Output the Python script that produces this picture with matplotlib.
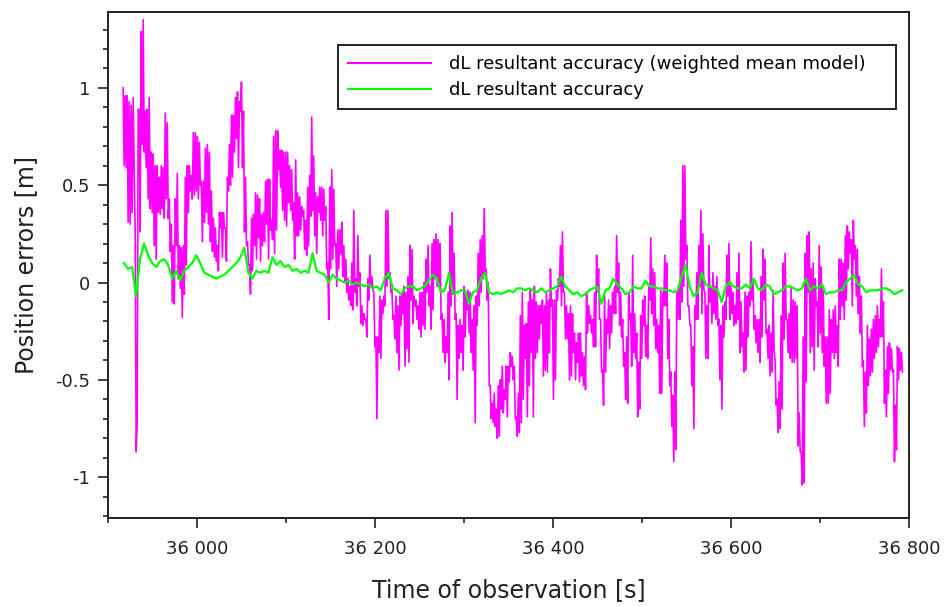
import matplotlib
matplotlib.use("Agg")
import matplotlib.pyplot as plt
from matplotlib.ticker import FuncFormatter, MultipleLocator
import numpy as np

plt.rcParams["axes.unicode_minus"] = False

# time base of the two records (regular sampling)
T0_WEIGHTED = 35917.0
DT_WEIGHTED = 1.127
T0_PLAIN = 35918.0
DT_PLAIN = 4.507

# dL resultant accuracy (weighted mean model) [m]
weighted = [
    1.00, 0.60, 0.96, 0.59, 0.96, 0.31, 0.93, 0.30, 0.91, 0.36, 0.95, 0.59,
    0.26, -0.87, -0.73, 0.89, 0.89, 0.26, 1.29, 0.71, 1.35, 0.67, 0.88, 0.59,
    0.89, 0.43, 0.95, 0.38, 0.67, 0.36, 0.66, 0.19, 0.60, 0.12, 0.60, 0.36,
    0.54, 0.35, 0.60, 0.38, 0.59, 0.33, 0.87, 0.43, 0.82, 0.33, 0.43, 0.16,
    0.30, -0.10, 0.19, -0.11, 0.43, 0.19, 0.56, 0.02, 0.19, -0.03, 0.18, -0.18,
    0.19, -0.06, 0.54, 0.09, 0.60, 0.36, 0.60, 0.47, 0.55, 0.43, 0.77, 0.45,
    0.77, 0.47, 0.75, 0.43, 0.72, 0.50, 0.52, 0.21, 0.52, 0.31, 0.69, 0.36,
    0.71, 0.30, 0.67, 0.21, 0.47, 0.16, 0.33, 0.13, 0.28, 0.11, 0.19, 0.06,
    0.36, 0.28, 0.36, 0.13, 0.36, 0.28, 0.28, 0.11, 0.54, 0.47, 0.71, 0.50,
    0.86, 0.54, 0.86, 0.67, 0.95, 0.74, 0.98, 0.59, 0.93, 0.88, 1.03, 0.59,
    0.88, 0.26, 0.54, 0.19, 0.21, 0.09, 0.09, -0.06, 0.33, 0.06, 0.35, 0.19,
    0.46, 0.12, 0.45, 0.23, 0.43, 0.11, 0.35, 0.19, 0.36, 0.21, 0.52, 0.30,
    0.53, 0.12, 0.53, 0.27, 0.32, 0.22, 0.75, 0.15, 0.78, 0.27, 0.78, 0.58,
    0.68, 0.49, 0.68, 0.37, 0.67, 0.32, 0.67, 0.29, 0.67, 0.41, 0.60, 0.37,
    0.58, 0.32, 0.41, 0.12, 0.63, 0.24, 0.46, 0.24, 0.44, 0.27, 0.39, 0.34,
    0.37, 0.17, 0.32, 0.14, 0.49, 0.19, 0.55, 0.34, 0.85, 0.37, 0.65, 0.24,
    0.46, 0.15, 0.44, 0.36, 0.49, 0.32, 0.49, 0.24, 0.48, 0.32, 0.39, 0.07,
    0.10, -0.19, 0.49, 0.07, 0.58, 0.12, 0.48, 0.19, 0.20, -0.02, 0.27, 0.07,
    0.27, 0.15, 0.31, 0.03, 0.19, 0.00, 0.12, -0.05, 0.02, -0.09, -0.02, -0.12,
    0.10, -0.14, 0.37, -0.05, 0.02, -0.12, 0.24, -0.02, 0.05, -0.21, -0.12, -0.22,
    -0.16, -0.19, -0.19, -0.28, 0.02, -0.09, 0.14, -0.02, 0.03, -0.04, -0.05, -0.33,
    -0.28, -0.70, -0.28, -0.36, -0.07, -0.39, -0.09, -0.16, -0.07, -0.12, 0.37, -0.02,
    0.37, 0.02, 0.05, -0.05, -0.04, -0.19, -0.17, -0.29, -0.07, -0.36, -0.12, -0.45,
    -0.07, -0.22, -0.05, -0.16, -0.02, -0.43, -0.05, -0.34, 0.03, -0.41, 0.19, -0.09,
    0.17, -0.21, -0.07, -0.12, -0.09, -0.19, -0.12, -0.24, -0.05, -0.28, -0.05, -0.22,
    0.00, -0.24, 0.12, -0.05, 0.19, -0.12, -0.02, -0.24, 0.20, -0.14, 0.22, 0.02,
    0.25, -0.02, 0.22, -0.02, 0.20, -0.19, -0.16, -0.36, -0.19, -0.41, -0.28, -0.36,
    -0.05, -0.50, 0.29, -0.12, 0.36, -0.05, 0.15, -0.19, -0.16, -0.60, -0.22, -0.39,
    -0.19, -0.36, -0.22, -0.45, -0.02, -0.28, -0.07, -0.14, -0.04, -0.26, -0.05, -0.36,
    -0.19, -0.45, -0.12, -0.72, -0.07, -0.22, 0.15, -0.12, 0.22, -0.05, 0.24, 0.02,
    0.38, 0.05, 0.07, -0.09, 0.00, -0.53, -0.53, -0.70, -0.62, -0.72, -0.57, -0.74,
    -0.65, -0.80, -0.53, -0.79, -0.50, -0.65, -0.43, -0.67, -0.55, -0.60, -0.43, -0.69,
    -0.43, -0.51, -0.36, -0.43, -0.38, -0.50, -0.43, -0.70, -0.69, -0.79, -0.57, -0.77,
    -0.17, -0.72, -0.05, -0.60, -0.22, -0.39, -0.21, -0.69, -0.10, -0.53, -0.04, -0.36,
    -0.09, -0.69, -0.02, -0.39, -0.10, -0.36, -0.12, -0.29, -0.12, -0.21, -0.09, -0.48,
    -0.12, -0.45, -0.05, -0.46, -0.09, -0.36, 0.07, -0.12, -0.09, -0.60, -0.09, -0.50,
    -0.04, -0.09, 0.02, -0.02, 0.19, -0.12, 0.26, -0.05, -0.05, -0.29, -0.12, -0.29,
    -0.16, -0.50, -0.12, -0.48, -0.16, -0.36, -0.26, -0.50, -0.31, -0.41, -0.26, -0.51,
    -0.26, -0.48, -0.36, -0.53, -0.38, -0.55, -0.05, -0.26, -0.12, -0.21, -0.17, -0.26,
    -0.19, -0.33, -0.05, -0.33, 0.14, -0.05, 0.07, -0.19, -0.19, -0.46, -0.45, -0.63,
    -0.07, -0.46, -0.19, -0.26, -0.09, -0.34, -0.12, -0.26, -0.05, -0.16, -0.02, -0.16,
    0.24, -0.05, 0.10, -0.22, -0.05, -0.28, -0.19, -0.43, -0.36, -0.60, -0.28, -0.62,
    -0.05, -0.19, -0.16, -0.43, 0.14, -0.36, -0.16, -0.39, -0.26, -0.69, -0.41, -0.65,
    -0.17, -0.39, -0.09, -0.22, -0.07, -0.38, -0.22, -0.39, -0.02, -0.09, 0.23, -0.16,
    0.07, -0.22, 0.05, -0.34, -0.19, -0.36, -0.22, -0.57, -0.04, -0.57, -0.05, -0.12,
    0.14, -0.12, 0.10, -0.39, -0.19, -0.53, -0.46, -0.74, -0.58, -0.92, -0.46, -0.86,
    -0.05, -0.19, -0.02, -0.19, 0.32, -0.10, 0.60, -0.02, 0.60, 0.12, 0.19, -0.12,
    -0.12, -0.22, -0.22, -0.53, -0.33, -0.75, -0.12, -0.19, 0.05, -0.19, 0.19, -0.02,
    0.37, -0.16, 0.25, -0.04, -0.05, -0.39, -0.12, -0.39, 0.19, -0.10, -0.02, -0.21,
    0.05, -0.16, -0.02, -0.19, 0.03, -0.22, -0.19, -0.50, -0.22, -0.65, -0.12, -0.28,
    -0.10, -0.19, 0.14, -0.07, 0.20, -0.19, -0.02, -0.16, -0.05, -0.22, -0.12, -0.21,
    0.05, -0.19, 0.15, -0.36, -0.10, -0.33, -0.26, -0.46, -0.05, -0.45, -0.07, -0.28,
    -0.05, -0.12, 0.21, -0.09, 0.00, -0.24, -0.17, -0.31, -0.19, -0.36, -0.19, -0.41,
    0.03, -0.28, 0.17, -0.09, 0.12, -0.26, -0.24, -0.39, -0.22, -0.48, -0.26, -0.46,
    -0.04, -0.34, -0.41, -0.63, -0.60, -0.77, -0.51, -0.75, -0.17, -0.65, 0.10, -0.29,
    0.15, -0.19, -0.19, -0.36, -0.16, -0.39, -0.02, -0.41, -0.09, -0.41, -0.10, -0.39,
    -0.12, -0.84, -0.67, -0.87, -0.87, -1.04, -0.28, -1.03, 0.15, -0.51, 0.24, -0.05,
    0.26, -0.36, 0.07, -0.33, 0.10, -0.45, 0.02, -0.12, -0.10, -0.33, 0.19, -0.26,
    0.08, -0.36, -0.02, -0.43, -0.28, -0.62, -0.28, -0.62, -0.14, -0.57, -0.19, -0.36,
    -0.14, -0.39, -0.12, -0.36, -0.22, -0.43, 0.12, -0.19, 0.12, -0.12, 0.10, -0.19,
    0.24, -0.09, 0.29, 0.07, 0.26, 0.15, 0.22, -0.12, 0.32, 0.12, 0.19, -0.07,
    0.17, -0.16, 0.03, -0.26, -0.07, -0.43, -0.40, -0.74, -0.46, -0.67, -0.22, -0.53,
    -0.29, -0.48, -0.24, -0.46, -0.19, -0.39, -0.17, -0.36, -0.12, -0.33, -0.19, -0.28,
    0.07, -0.28, -0.10, -0.62, -0.45, -0.69, -0.33, -0.57, -0.31, -0.45, -0.34, -0.46,
    -0.45, -0.92, -0.63, -0.86, -0.33, -0.50, -0.34, -0.45, -0.36, -0.46,
]

# dL resultant accuracy [m]
plain = [
    0.10, 0.07, 0.08, -0.07, 0.12, 0.20, 0.14, 0.10, 0.08, 0.11, 0.12, 0.09,
    0.02, 0.06, 0.01, 0.06, 0.08, 0.10, 0.14, 0.10, 0.05, 0.04, 0.03, 0.02,
    0.03, 0.04, 0.06, 0.08, 0.10, 0.13, 0.18, 0.05, 0.02, 0.06, 0.05, 0.06,
    0.05, 0.13, 0.09, 0.11, 0.08, 0.09, 0.06, 0.07, 0.05, 0.06, 0.05, 0.15,
    0.06, 0.05, 0.04, 0.00, 0.04, 0.02, 0.01, 0.00, 0.01, -0.01, 0.00, -0.01,
    -0.02, -0.01, -0.03, -0.02, -0.04, 0.02, 0.05, -0.03, -0.04, -0.06, -0.03, -0.02,
    -0.02, -0.04, -0.03, -0.02, 0.01, 0.04, 0.02, -0.05, -0.04, 0.05, -0.06, -0.05,
    -0.04, -0.04, -0.11, -0.05, -0.04, 0.02, 0.05, -0.05, -0.06, -0.05, -0.06, -0.05,
    -0.04, -0.05, -0.03, -0.03, -0.04, -0.03, -0.04, -0.05, -0.03, -0.05, -0.04, -0.03,
    -0.02, 0.03, -0.02, -0.04, -0.06, -0.05, -0.07, -0.06, -0.04, -0.03, -0.02, -0.11,
    -0.04, -0.03, 0.02, -0.01, -0.03, -0.06, -0.05, -0.02, -0.03, -0.03, 0.01, -0.02,
    -0.02, -0.03, -0.03, -0.04, -0.04, -0.05, -0.04, 0.03, 0.09, -0.02, -0.07, -0.05,
    0.05, -0.01, -0.02, -0.03, -0.04, -0.10, -0.02, 0.00, -0.02, -0.03, -0.03, -0.01,
    -0.03, 0.02, -0.03, -0.04, -0.01, -0.02, -0.06, -0.05, -0.04, -0.02, -0.02, -0.03,
    -0.04, -0.03, 0.02, -0.04, -0.02, -0.03, -0.01, -0.06, -0.05, -0.05, -0.04, -0.04,
    0.00, 0.02, 0.04, -0.01, -0.02, -0.05, -0.04, -0.04, -0.04, -0.03, -0.03, -0.04,
    -0.06, -0.05, -0.04,
]

t_weighted = T0_WEIGHTED + DT_WEIGHTED * np.arange(len(weighted))
t_plain = T0_PLAIN + DT_PLAIN * np.arange(len(plain))

fig = plt.figure(figsize=(9.44, 6.07), dpi=100)
ax = fig.add_axes([108 / 944, 1 - 518 / 607, 801 / 944, 506 / 607])

ax.plot(t_weighted, weighted, color="#ff00ff", linewidth=1.2,
        label="dL resultant accuracy (weighted mean model)")
ax.plot(t_plain, plain, color="#00ff00", linewidth=1.6,
        label="dL resultant accuracy")

ax.set_xlim(35900, 36800)
ax.set_ylim(-1.21, 1.39)

ax.xaxis.set_major_locator(MultipleLocator(200))
ax.xaxis.set_minor_locator(MultipleLocator(100))
ax.yaxis.set_major_locator(MultipleLocator(0.5))
ax.yaxis.set_minor_locator(MultipleLocator(0.1))
ax.xaxis.set_major_formatter(FuncFormatter(lambda v, p: f"{v:,.0f}".replace(",", " ")))
ax.yaxis.set_major_formatter(FuncFormatter(lambda v, p: f"{v:g}"))

ax.tick_params(which="major", direction="out", length=7, width=1.2,
               color="#222222", labelsize=13, labelcolor="#222222", pad=6)
ax.tick_params(which="minor", direction="out", length=3.5, width=1.2, color="#222222")
ax.tick_params(axis="x", which="major", pad=9)
for side in ["top", "right", "bottom", "left"]:
    ax.spines[side].set_linewidth(1.4)
    ax.spines[side].set_color("#222222")

ax.set_xlabel("Time of observation [s]", fontsize=17, color="#222222", labelpad=14)
ax.set_ylabel("Position errors [m]", fontsize=17, color="#222222", labelpad=12)

leg = ax.legend(loc="upper left", bbox_to_anchor=(0.287, 0.779, 0.697, 0.156),
                mode="expand", fontsize=13, handlelength=4.6, handletextpad=1.0,
                borderaxespad=0, fancybox=False, framealpha=1, borderpad=0.55,
                labelspacing=0.45)
leg.get_frame().set_edgecolor("#222222")
leg.get_frame().set_linewidth(1.4)
for line in leg.get_lines():
    line.set_linewidth(1.5)

fig.savefig("out.png", dpi=100)
